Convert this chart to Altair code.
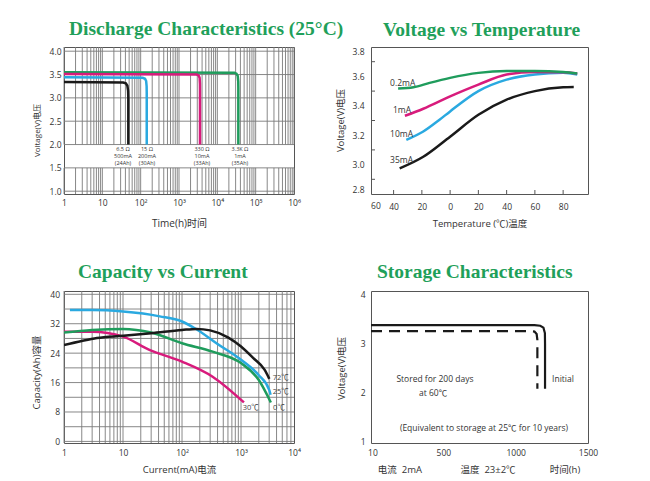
import altair as alt
import pandas as pd

# ---------------- colours / fonts ----------------
GREEN = "#1f9c5c"
CYAN = "#2aa9e0"
MAGENTA = "#d81b7c"
BLACK = "#1a1a1a"
TITLE_GREEN = "#1fa05a"
GRID = "#7a7a7a"
TXT = "#333333"
FONT = "'Open Sans', 'Noto Sans CJK SC', sans-serif"
SERIF = "'Liberation Serif', 'Times New Roman', serif"

# ---------------- Panel 1: Discharge Characteristics (25°C) ----------------
dis_black_t = [1, 35, 41, 45, 47, 47.6, 47.6]
dis_black_v = [3.34, 3.33, 3.31, 3.26, 3.15, 3.0, 2.0]
dis_cyan_t = [1, 113, 130, 139, 143, 144, 144]
dis_cyan_v = [3.44, 3.43, 3.41, 3.36, 3.25, 3.1, 2.0]
dis_magenta_t = [1, 2900, 3250, 3450, 3520, 3530, 3530]
dis_magenta_v = [3.51, 3.50, 3.48, 3.43, 3.30, 3.15, 2.0]
dis_green_t = [1, 27800, 31500, 34000, 35100, 35300, 35300]
dis_green_v = [3.55, 3.54, 3.52, 3.47, 3.35, 3.20, 2.0]
dis_label_t = [34.6, 146, 3980, 39000]
dis_label_text = ["6.5 Ω\n500mA\n(24Ah)", "15 Ω\n200mA\n(30Ah)",
                  "330 Ω\n10mA\n(33Ah)", "3.3K Ω\n1mA\n(35Ah)"]
dis_label_v = 1.947
dis_y_ticks = [1.0, 1.5, 2.0, 2.5, 3.0, 3.5, 4.0]
dis_x_ticks = [1, 10, 100, 1000, 10000, 100000, 1000000]
dis_ydom = [0.94, 4.09]

# ---------------- Panel 2: Voltage vs Temperature ----------------
vt_green_t = [-36.8, -26, -14.5, 0, 20, 40, 60, 80, 90]
vt_green_v = [3.517, 3.526, 3.556, 3.59, 3.624, 3.636, 3.636, 3.63, 3.62]
vt_magenta_t = [-32, -19, 0, 20, 40, 60, 80, 90]
vt_magenta_v = [3.332, 3.38, 3.464, 3.544, 3.613, 3.63, 3.628, 3.62]
vt_cyan_t = [-31, -19, -7.5, 0, 20, 40, 60, 80, 90]
vt_cyan_v = [3.168, 3.225, 3.305, 3.362, 3.50, 3.578, 3.613, 3.624, 3.613]
vt_black_t = [-35.7, -19, 0, 20, 40, 60, 80, 87.5]
vt_black_v = [2.974, 3.053, 3.19, 3.339, 3.442, 3.50, 3.526, 3.528]
vt_label_text = ["0.2mA", "1mA", "10mA", "35mA"]
vt_label_t = [-42.5, -40.5, -42.5, -42.5]
vt_label_v = [3.555, 3.37, 3.206, 3.034]
vt_x_ticks = [-40, -20, 0, 20, 40, 60, 80]
vt_y_ticks = [2.8, 3.0, 3.2, 3.4, 3.6, 3.8]
vt_y_minor = [2.9, 3.1, 3.3, 3.5, 3.7]
vt_xdom = [-56, 97.6]

# ---------------- Panel 3: Capacity vs Current ----------------
cc_black_i = [1, 2, 3.6, 10, 30, 100, 175, 300, 600, 1000, 1600, 2500, 3020]
cc_black_c = [26.2, 27.3, 28.1, 28.7, 29.4, 30.3, 30.6, 30.2, 28.3, 25.8, 22.7, 19.5, 17.0]
cc_cyan_i = [1.26, 3, 10, 42, 100, 175, 400, 1000, 2000, 3000, 3170]
cc_cyan_c = [35.7, 35.7, 35.3, 34.0, 32.6, 30.5, 26.5, 22.2, 18.0, 14.0, 12.7]
cc_green_i = [1, 3, 10, 30, 100, 330, 1000, 2000, 3200]
cc_green_c = [29.6, 30.3, 30.6, 29.6, 26.7, 24.4, 21.3, 16.7, 10.6]
cc_magenta_i = [1, 3, 10, 28, 100, 330, 1120]
cc_magenta_c = [29.8, 29.8, 28.5, 24.9, 21.7, 17.6, 10.6]
cc_label_text = ["72℃", "25℃", "0℃", "30℃"]
cc_label_i = [4710, 4710, 4400, 1460]
cc_label_c = [17.25, 13.44, 9.09, 9.09]
cc_x_max = 7900
cc_x_ticks = [1, 10, 100, 1000, cc_x_max]
cc_y_ticks = [0, 8, 16, 24, 32, 40]
cc_y_grid = [0, 4, 8, 12, 16, 20, 24, 28, 32, 36, 40]
cc_ydom = [-0.43, 40.9]

# ---------------- Panel 4: Storage Characteristics ----------------
st_initial_h = [0, 1130, 1170, 1192, 1202, 1203, 1203]
st_initial_v = [3.38, 3.38, 3.37, 3.33, 3.22, 3.0, 2.08]
st_stored_h = [0, 1095, 1130, 1145, 1150, 1150]
st_stored_v = [3.26, 3.26, 3.25, 3.20, 3.08, 2.08]
st_note_text = ["Stored for 200 days", "at 60℃", "Initial",
                "(Equivalent to storage at 25℃ for 10 years)"]
st_note_h = [442, 429, 1327, 781]
st_note_v = [2.28, 1.99, 2.28, 1.28]
st_cond_text = ["电流\u00a0\u00a02mA", "温度\u00a0\u00a023±2℃", "时间(h)"]
st_cond_h = [200, 809, 1341]
st_x_ticks = [10, 500, 1000, 1500]
st_y_ticks = [1, 2, 3, 4]
st_xdom = [0, 1500]
st_ydom = [0.97, 4.08]

W1, H1 = 230, 147
W2, H2 = 217, 147
W3, H3 = 230, 152
W4, H4 = 217, 152

SUP_EXPR = ("datum.value < 5 ? '1' : datum.value < 50 ? '10' : "
            "'10' + ['', '', '²', '³', '⁴', '⁵', '⁶'][round(log(datum.value) / LN10)]")


def line_layer(xs, ys, color, X, Y, width=2.5, interp="linear", dash=None):
    df = pd.DataFrame({"x": xs, "y": ys, "o": list(range(len(xs)))})
    kw = dict(color=color, strokeWidth=width, interpolate=interp, clip=True)
    if dash is not None:
        kw["strokeDash"] = dash
    return alt.Chart(df).mark_line(**kw).encode(x=X, y=Y, order="o:Q")


def title(text, dx, offset):
    return alt.TitleParams(text=text, font=SERIF, fontSize=19.5, fontWeight="bold",
                           color=TITLE_GREEN, anchor="start", frame="group", dx=dx,
                           baseline="alphabetic", offset=offset)


# ================= Panel 1 =================
X1 = alt.X("x:Q", scale=alt.Scale(type="log", domain=[1, 1e6], nice=False),
           axis=alt.Axis(values=dis_x_ticks, labelExpr=SUP_EXPR, labelPadding=4,
                         title="Time(h)时间", titleFontSize=10, titleY=29,
                         titleBaseline="middle"))
Y1 = alt.Y("y:Q", scale=alt.Scale(domain=dis_ydom, nice=False, zero=False),
           axis=alt.Axis(values=dis_y_ticks, format=".1f", labelPadding=3,
                         title="Voltage(V)电压", titleFontSize=8, titleX=-27,
                         titleY=83, titleAngle=270, titleBaseline="middle"))
grid1_x = [d * m for d in [1, 10, 100, 1000, 10000, 100000] for m in range(1, 10)] + [1e6]
seg_rows = []
for gx in grid1_x:
    seg_rows.append({"x": gx, "y": dis_ydom[1], "y2": 2.0})
    seg_rows.append({"x": gx, "y": 1.5, "y2": dis_ydom[0]})
g1v = alt.Chart(pd.DataFrame(seg_rows)).mark_rule(color=GRID, strokeWidth=0.9).encode(
    x=X1, y=Y1, y2="y2:Q")
g1h = alt.Chart(pd.DataFrame({"y": dis_y_ticks})).mark_rule(color=GRID, strokeWidth=0.9).encode(y=Y1)
lab1 = alt.Chart(pd.DataFrame({"x": dis_label_t, "y": [dis_label_v] * 4, "t": dis_label_text})).mark_text(
    font=FONT, fontSize=5.5, lineBreak="\n", lineHeight=7, baseline="top", align="center",
    color=TXT).encode(x=X1, y=Y1, text="t:N")
p1 = alt.layer(
    g1v, g1h,
    line_layer(dis_green_t, dis_green_v, GREEN, X1, Y1),
    line_layer(dis_magenta_t, dis_magenta_v, MAGENTA, X1, Y1),
    line_layer(dis_cyan_t, dis_cyan_v, CYAN, X1, Y1),
    line_layer(dis_black_t, dis_black_v, BLACK, X1, Y1),
    lab1,
).properties(width=W1, height=H1, title=title("Discharge Characteristics (25°C)", 5, -8))

# ================= Panel 2 =================
NEG_EXPR = "datum.value < 0 ? '\u2007\u2009' + abs(datum.value) : '' + datum.value"
X2 = alt.X("x:Q", scale=alt.Scale(domain=vt_xdom, nice=False, zero=False),
           axis=alt.Axis(values=vt_x_ticks, labelExpr=NEG_EXPR, labelPadding=8,
                         title="Temperature (℃)温度", titleFontSize=9.5, titleY=29,
                         titleBaseline="middle"))
Y2 = alt.Y("y:Q", scale=alt.Scale(domain=[2.8, 3.8], nice=False, zero=False),
           axis=alt.Axis(values=vt_y_ticks, format=".1f", labelPadding=7, labelFlush=True,
                         title="Voltage(V)电压", titleFontSize=9.5, titleX=-31,
                         titleY=73, titleAngle=270, titleBaseline="middle"))
tick2x = alt.Chart(pd.DataFrame({"x": vt_x_ticks})).mark_rule(color="#555", strokeWidth=1).encode(
    x=X2, y=alt.value(H2), y2=alt.value(H2 - 4))
tick2y = alt.Chart(pd.DataFrame({"y": vt_y_minor})).mark_rule(color="#555", strokeWidth=1).encode(
    y=Y2, x=alt.value(0), x2=alt.value(4))
lab2 = alt.Chart(pd.DataFrame({"x": vt_label_t, "y": vt_label_v, "t": vt_label_text})).mark_text(
    font=FONT, fontSize=8.5, align="left", baseline="middle", color=TXT).encode(x=X2, y=Y2, text="t:N")
extra60 = alt.Chart(pd.DataFrame({"x": [-52.5], "t": ["60"]})).mark_text(
    font=FONT, fontSize=8.5, align="center", baseline="top", color=TXT).encode(
    x=X2, y=alt.value(H2 + 8), text="t:N")
p2 = alt.layer(
    tick2x, tick2y,
    line_layer(vt_black_t, vt_black_v, BLACK, X2, Y2, interp="monotone"),
    line_layer(vt_cyan_t, vt_cyan_v, CYAN, X2, Y2, interp="monotone"),
    line_layer(vt_magenta_t, vt_magenta_v, MAGENTA, X2, Y2, interp="monotone"),
    line_layer(vt_green_t, vt_green_v, GREEN, X2, Y2, interp="monotone"),
    lab2, extra60,
).properties(width=W2, height=H2, title=title("Voltage vs Temperature", 12, -8))

# ================= Panel 3 =================
SUP3_EXPR = ("datum.value < 5 ? '1' : datum.value < 50 ? '10' : datum.value < 500 ? '10²' : "
             "datum.value < 5000 ? '10³' : '10⁴'")
X3 = alt.X("x:Q", scale=alt.Scale(type="log", domain=[1, cc_x_max], nice=False),
           axis=alt.Axis(values=cc_x_ticks, labelExpr=SUP3_EXPR, labelPadding=5.5,
                         title="Current(mA)电流", titleFontSize=9.5, titleY=26,
                         titleBaseline="middle"))
Y3 = alt.Y("y:Q", scale=alt.Scale(domain=cc_ydom, nice=False, zero=False),
           axis=alt.Axis(values=cc_y_ticks, labelPadding=4.5,
                         title="Capacity(Ah)容量", titleFontSize=9.5, titleX=-27.3,
                         titleY=81, titleAngle=270, titleBaseline="middle"))
grid3_x = [d * m for d in [1, 10, 100, 1000] for m in range(1, 10) if d * m <= cc_x_max]
g3v = alt.Chart(pd.DataFrame({"x": grid3_x})).mark_rule(color=GRID, strokeWidth=0.9).encode(x=X3)
g3h = alt.Chart(pd.DataFrame({"y": cc_y_grid})).mark_rule(color=GRID, strokeWidth=0.9).encode(y=Y3)
lab3 = alt.Chart(pd.DataFrame({"x": cc_label_i, "y": cc_label_c, "t": cc_label_text})).mark_text(
    font=FONT, fontSize=7.5, align="center", baseline="middle", color="#444").encode(
    x=X3, y=Y3, text="t:N")
p3 = alt.layer(
    g3v, g3h,
    line_layer(cc_magenta_i, cc_magenta_c, MAGENTA, X3, Y3, interp="monotone"),
    line_layer(cc_green_i, cc_green_c, GREEN, X3, Y3, interp="monotone"),
    line_layer(cc_cyan_i, cc_cyan_c, CYAN, X3, Y3, interp="monotone"),
    line_layer(cc_black_i, cc_black_c, BLACK, X3, Y3, interp="monotone"),
    lab3,
).properties(width=W3, height=H3, title=title("Capacity vs Current", 14, -7))

# ================= Panel 4 =================
X4 = alt.X("x:Q", scale=alt.Scale(domain=st_xdom, nice=False, zero=False),
           axis=alt.Axis(values=st_x_ticks, format="d", labelPadding=5.5, title=None))
Y4 = alt.Y("y:Q", scale=alt.Scale(domain=st_ydom, nice=False, zero=False),
           axis=alt.Axis(values=st_y_ticks, format="d", labelPadding=6,
                         title="Voltage(V)电压", titleFontSize=9.5, titleX=-29.3,
                         titleY=77, titleAngle=270, titleBaseline="middle"))
notes4 = alt.Chart(pd.DataFrame({"x": st_note_h, "y": st_note_v, "t": st_note_text})).mark_text(
    font=FONT, fontSize=8.5, align="center", baseline="middle", color=TXT).encode(
    x=X4, y=Y4, text="t:N")
cond4 = alt.Chart(pd.DataFrame({"x": st_cond_h, "t": st_cond_text})).mark_text(
    font=FONT, fontSize=9.5, align="center", baseline="middle", color=TXT).encode(
    x=X4, y=alt.value(H4 + 27), text="t:N")
p4 = alt.layer(
    line_layer(st_stored_h, st_stored_v, BLACK, X4, Y4, width=2.2, dash=[11, 7]),
    line_layer(st_initial_h, st_initial_v, BLACK, X4, Y4, width=2.2),
    notes4, cond4,
).properties(width=W4, height=H4, title=title("Storage Characteristics", 6, -7))

chart = alt.concat(
    p1, p2, p3, p4, columns=2, bounds="flush",
    spacing=alt.RowColnumber(row=97, column=77),
).properties(
    padding={"left": 64, "top": 47, "right": 586, "bottom": 434},
    autosize=alt.AutoSizeParams(type="none"),
    background="white",
).configure_view(
    stroke="#555", strokeWidth=1
).configure_axis(
    labelFont=FONT, labelFontSize=8.5, labelColor=TXT,
    titleFont=FONT, titleFontWeight="normal", titleColor=TXT,
    domain=False, ticks=False, grid=False, labelFlush=False, labelOverlap=False,
)

chart.save("out.html", embed_options={"renderer": "svg", "actions": False})
